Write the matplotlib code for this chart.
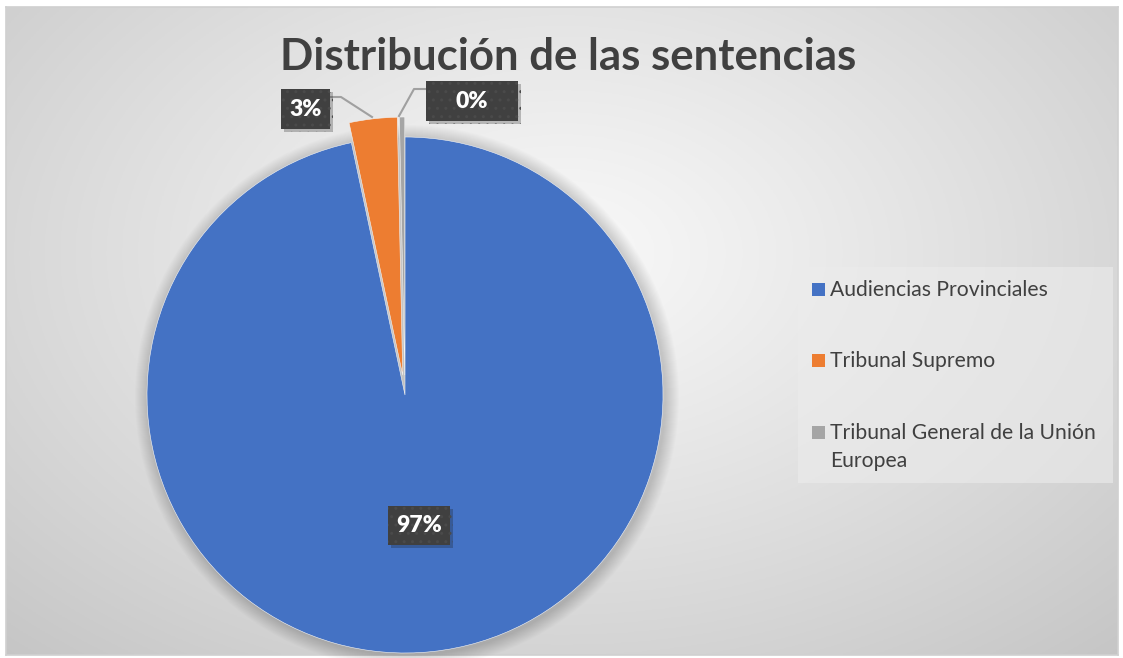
import numpy as np
import matplotlib
matplotlib.use("Agg")
import matplotlib.pyplot as plt
from matplotlib.patches import Rectangle, Circle
import matplotlib.patheffects as pe

# ---- data ----
categories = ["Audiencias Provinciales", "Tribunal Supremo", "Tribunal General de la Unión\nEuropea"]
values = [290, 9, 1]
colors = ["#4472C4", "#ED7D31", "#A5A5A5"]
title = "Distribución de las sentencias"

W, H = 1123, 658
fig = plt.figure(figsize=(W / 100, H / 100), dpi=100)
fig.patch.set_facecolor("white")

def Y(y):
    return H - y

FONT = ["Lato", "DejaVu Sans"]

# background gradient axes (chart area)
bx0, by0, bx1, by1 = 6, 7, 1118, 655
bg = fig.add_axes([bx0 / W, (H - by1) / H, (bx1 - bx0) / W, (by1 - by0) / H])
gx, gy = np.meshgrid(np.linspace(0, 1, 400), np.linspace(0, 1, 240))
d = np.sqrt(((gx - 0.5) / 0.75) ** 2 + ((gy - 0.38) / 0.85) ** 2)
d = np.clip(d / d.max(), 0, 1)
c0, c1 = 0.975, 0.775
img = c0 + (c1 - c0) * d ** 1.1
bg.imshow(np.dstack([img, img, img]), aspect="auto", extent=[0, 1, 0, 1], origin="upper")
bg.set_xticks([]); bg.set_yticks([])
for s in bg.spines.values():
    s.set_color("#d0d0d0"); s.set_linewidth(1.2)

# main axes in pixel coordinates
ax = fig.add_axes([0, 0, 1, 1])
ax.patch.set_alpha(0)

# soft shadow around the pie
for i in range(1, 15):
    ax.add_patch(Circle((407, Y(397)), 258 + i, facecolor="black", alpha=0.011,
                        edgecolor="none", zorder=0))

explode = [0, 20, 20]
wedges, _ = ax.pie(values, colors=colors, startangle=90, counterclock=False,
                   center=(405, Y(395)), radius=258, explode=explode,
                   wedgeprops=dict(linewidth=0.4, edgecolor="#f4f4f4"), frame=True)
ax.set_xlim(0, W); ax.set_ylim(0, H)
ax.set_aspect("equal")
ax.axis("off")

# title
ax.text(568, Y(57), title, ha="center", va="center", fontsize=31.5, fontweight="bold",
        color="#404040", family=FONT)

# data labels
total = sum(values)
label_boxes = [(388, 506, 62, 39), (281, 89, 49, 40), (426, 81, 92, 40)]
for v, (x, y, w, h) in zip(values, label_boxes):
    r = Rectangle((x, Y(y + h)), w, h, facecolor="#404040", edgecolor="#4a4a4a",
                  hatch="..", linewidth=0, zorder=5)
    r.set_path_effects([pe.SimplePatchShadow(offset=(2, -2), alpha=0.25), pe.Normal()])
    ax.add_patch(r)
    ax.text(x + w / 2, Y(y + h / 2), f"{v / total * 100:.0f}%", ha="center", va="center",
            fontsize=16.5, fontweight="heavy", color="white", zorder=6, family=FONT)

# leader lines
ax.plot([330, 341, 372], [Y(97), Y(97), Y(117)], color="#a0a0a0", lw=1.5, zorder=4)
ax.plot([426, 414, 399], [Y(89), Y(89), Y(116)], color="#a0a0a0", lw=1.5, zorder=4)

# legend
ax.add_patch(Rectangle((798, Y(483)), 315, 216, facecolor="#ececec", alpha=0.6,
                       edgecolor="none", zorder=2))
leg_y = [289, 360, 432]
for lab, col, y in zip(categories, colors, leg_y):
    ax.add_patch(Rectangle((812, Y(y + 6.5)), 13, 13, facecolor=col, edgecolor="none", zorder=3))
    ax.text(830, Y(y - 9), lab, ha="left", va="top", fontsize=15.2, color="#404040",
            zorder=3, family=FONT, linespacing=1.5)

fig.savefig("out.png", dpi=100)
